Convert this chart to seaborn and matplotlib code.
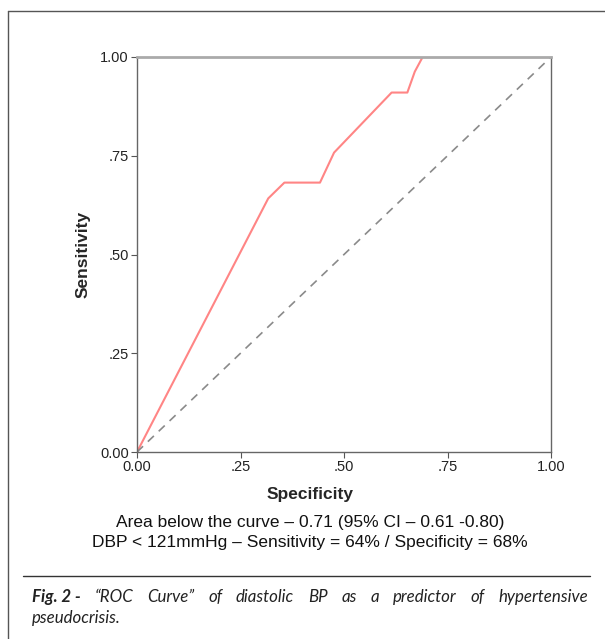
import numpy as np
import pandas as pd
import matplotlib
matplotlib.use("Agg")
import matplotlib.pyplot as plt
import seaborn as sns
from matplotlib.lines import Line2D

# ROC curve points
specificity = [0.0, 0.317, 0.356, 0.442, 0.476, 0.615, 0.653, 0.671, 0.690, 1.0]
sensitivity = [0.0, 0.642, 0.682, 0.682, 0.758, 0.910, 0.910, 0.963, 1.0, 1.0]
ref_line = [0.0, 1.0]
tick_vals = [0.0, 0.25, 0.5, 0.75, 1.0]
tick_labels = ["0.00", ".25", ".50", ".75", "1.00"]

note_lines = [
    "Area below the curve \u2013 0.71 (95% CI \u2013 0.61 -0.80)",
    "DBP < 121mmHg \u2013 Sensitivity = 64% / Specificity = 68%",
]
caption_head = "Fig. 2 -"
caption_line1 = "\u201cROC Curve\u201d of diastolic BP as a predictor of hypertensive"
caption_line2 = "pseudocrisis."

sns.set_style("white")
plt.rcParams['font.family'] = ['Liberation Sans', 'DejaVu Sans']

df = pd.DataFrame({'Specificity': specificity, 'Sensitivity': sensitivity})

W, H = 605, 639
fig = plt.figure(figsize=(W / 100, H / 100), dpi=100)
ax = fig.add_axes([137 / W, 1 - 452 / H, 414 / W, 395 / H])

sns.lineplot(data=df, x='Specificity', y='Sensitivity', sort=False,
             color='#ff8585', linewidth=1.5, ax=ax, estimator=None)
ax.plot(ref_line, ref_line, color='#8a8a8a', linestyle=(0, (5, 4)), linewidth=1.2)

ax.set_xlim(0, 1)
ax.set_ylim(0, 1)
ax.set_xticks(tick_vals)
ax.set_xticklabels(tick_labels)
ax.set_yticks(tick_vals)
ax.set_yticklabels(tick_labels)
ax.tick_params(axis='both', direction='out', length=4, width=0.8, color='#555555',
               labelsize=10.5, labelcolor='#222222', pad=2, bottom=True, left=True)
ax.set_xlabel('Specificity', fontsize=12.5, fontweight='bold')
ax.set_ylabel('Sensitivity', fontsize=12.5, fontweight='bold')
ax.xaxis.set_label_coords((310 - 137) / 414, (452 - 487) / 395)
ax.yaxis.set_label_coords((91 - 137) / 414, 0.5)

for side in ['left', 'bottom', 'right']:
    ax.spines[side].set_color('#666666')
    ax.spines[side].set_linewidth(1.0)
ax.spines['top'].set_color('#aaaaaa')
ax.spines['top'].set_linewidth(2.0)

# notes under the chart
fig.text(310 / W, 1 - 522 / H, note_lines[0], ha='center', va='center', fontsize=12.5, color='#111111')
fig.text(310 / W, 1 - 543 / H, note_lines[1], ha='center', va='center', fontsize=12.5, color='#111111')

# frame and separator
fig.add_artist(Line2D([7.5 / W, 7.5 / W], [0, 1 - 10.5 / H], color='#555555', linewidth=1.0))
fig.add_artist(Line2D([7.5 / W, 1], [1 - 10.5 / H, 1 - 10.5 / H], color='#555555', linewidth=1.0))
fig.add_artist(Line2D([23 / W, 590 / W], [1 - 575.5 / H, 1 - 575.5 / H], color='#333333', linewidth=1.0))

# caption, first line justified between x=32 and x=588
cap_font = ['Lato', 'DejaVu Sans']
cap_size = 12.2
renderer = fig.canvas.get_renderer()
words = [(caption_head, 'bold')] + [(w, 'normal') for w in caption_line1.split(' ')]
items = []
for w, weight in words:
    t = fig.text(0, 1 - 597 / H, w, ha='left', va='center', fontsize=cap_size,
                 style='italic', fontweight=weight, family=cap_font, color='#222222')
    items.append(t)
widths = [t.get_window_extent(renderer).width for t in items]
left_px, right_px = 32, 588
gap = (right_px - left_px - sum(widths)) / (len(items) - 1)
x = left_px
for t, wd in zip(items, widths):
    t.set_x(x / W)
    x += wd + gap
fig.text(left_px / W, 1 - 618 / H, caption_line2, ha='left', va='center', fontsize=cap_size,
         style='italic', family=cap_font, color='#222222')

fig.savefig('out.png', dpi=100)
